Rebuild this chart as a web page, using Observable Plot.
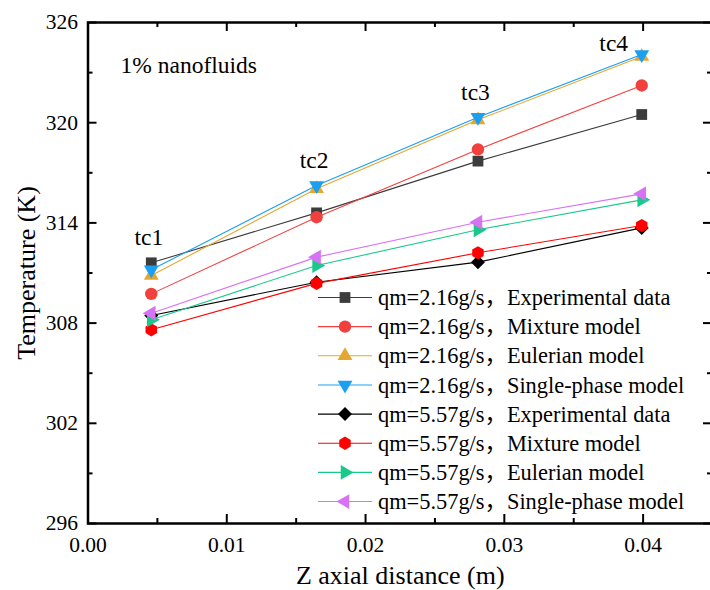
<!DOCTYPE html>
<html><head><meta charset="utf-8">
<script src="https://cdn.jsdelivr.net/npm/d3@7"></script>
<script src="https://cdn.jsdelivr.net/npm/@observablehq/plot@0.6"></script>
<style>
body{margin:0;background:#fff;}
#chart{width:710px;height:590px;overflow:hidden;}
</style></head><body><div id="chart"></div>
<script>
// ---- data ----
const positions = [0.00456, 0.01647, 0.0281, 0.0399];
const pointLabels = ["tc1", "tc2", "tc3", "tc4"];
const flowRates = ["2.16", "2.16", "2.16", "2.16", "5.57", "5.57", "5.57", "5.57"];
const models = ["Experimental data", "Mixture model", "Eulerian model", "Single-phase model",
                "Experimental data", "Mixture model", "Eulerian model", "Single-phase model"];
const exp216 = [311.61, 314.60, 317.70, 320.49];
const mix216 = [309.75, 314.34, 318.40, 322.23];
const eul216 = [310.85, 316.04, 320.17, 323.96];
const sp216  = [311.19, 316.24, 320.33, 324.08];
const exp557 = [308.46, 310.45, 311.65, 313.70];
const mix557 = [307.60, 310.38, 312.21, 313.84];
const eul557 = [308.20, 311.45, 313.59, 315.38];
const sp557  = [308.59, 311.95, 314.04, 315.74];
const xTicks = [0, 0.01, 0.02, 0.03, 0.04];
const xMinorTicks = [0.005, 0.015, 0.025, 0.035];
const yTicks = [296, 302, 308, 314, 320, 326];
const yMinorTicks = [299, 305, 311, 317, 323];
const annotation = "1% nanofluids";
const xTitle = "Z axial distance (m)";
const yTitle = "Temperature (K)";

// ---- styles ----
const seriesValues = [exp216, mix216, eul216, sp216, exp557, mix557, eul557, sp557];
const colors = ["#3c3c3c", "#f0413f", "#e6a731", "#1a9ff2", "#000000", "#ff0000", "#18c98a", "#d872f4"];

function poly(pts) {
  return {draw(ctx, size) {
    const r = Math.sqrt(size / Math.PI);
    pts.forEach(([a, b], i) => i ? ctx.lineTo(a * r, b * r) : ctx.moveTo(a * r, b * r));
    ctx.closePath();
  }};
}
function tri(angleDeg, k) {
  const pts = [];
  for (let i = 0; i < 3; i++) {
    const a = (angleDeg + i * 120) * Math.PI / 180;
    pts.push([k * Math.cos(a), k * Math.sin(a)]);
  }
  return poly(pts);
}
const sq = 0.87;
const symSquare = poly([[-sq, -sq], [sq, -sq], [sq, sq], [-sq, sq]]);
const symCircle = {draw(ctx, size) { const r = Math.sqrt(size / Math.PI); ctx.moveTo(r, 0); ctx.arc(0, 0, r, 0, 2 * Math.PI); }};
const symUp = tri(-90, 1.38);
const symDown = tri(90, 1.38);
const symRight = tri(0, 1.38);
const symLeft = tri(180, 1.38);
const dm = 1.13;
const symDiamond = poly([[0, -dm], [dm, 0], [0, dm], [-dm, 0]]);
const hx = [];
for (let i = 0; i < 6; i++) { const a = (-90 + i * 60) * Math.PI / 180; hx.push([1.07 * Math.cos(a), 1.07 * Math.sin(a)]); }
const symHex = poly(hx);
const symbols = [symSquare, symCircle, symUp, symDown, symDiamond, symHex, symRight, symLeft];
const R = 6.2;

const series = seriesValues.map((vals, s) => ({
  name: `qm=${flowRates[s]}g/s，${models[s]}`,
  color: colors[s], symbol: symbols[s],
  rows: vals.map((v, i) => ({x: positions[i], y: v}))
}));
const labelRows = pointLabels.map((t, i) => ({t, x: positions[i], y: d3.max(seriesValues, v => v[i])}));

const W = 710, H = 590, mL = 87.5, mR = -2, mT = 22, mB = 67;
const innerW = W - mL - mR, innerH = H - mT - mB;
const FONT = "'Liberation Serif', 'Times New Roman', 'Noto Sans CJK SC', serif";

const plot = Plot.plot({
  width: W, height: H,
  marginLeft: mL, marginRight: mR, marginTop: mT, marginBottom: mB,
  x: {domain: [0, 0.045]},
  y: {domain: [296, 326]},
  style: {fontFamily: FONT, fontSize: "21px", color: "#000", background: "#fff"},
  marks: [
    ...series.flatMap(s => [
      Plot.line(s.rows, {x: "x", y: "y", stroke: s.color, strokeWidth: 1.1}),
      Plot.dot(s.rows, {x: "x", y: "y", symbol: s.symbol, fill: s.color, r: R, stroke: "none"})
    ]),
    // inward ticks
    Plot.tickX(xTicks, {x: d => d, insetTop: innerH - 9, strokeWidth: 2}),
    Plot.tickX(xMinorTicks, {x: d => d, insetTop: innerH - 5, strokeWidth: 2}),
    Plot.tickX(xTicks, {x: d => d, insetBottom: innerH - 9, strokeWidth: 2}),
    Plot.tickX(xMinorTicks, {x: d => d, insetBottom: innerH - 5, strokeWidth: 2}),
    Plot.tickY(yTicks, {y: d => d, insetRight: innerW - 9, strokeWidth: 2}),
    Plot.tickY(yMinorTicks, {y: d => d, insetRight: innerW - 5, strokeWidth: 2}),
    Plot.tickY(yTicks, {y: d => d, insetLeft: innerW - 9, strokeWidth: 2}),
    Plot.tickY(yMinorTicks, {y: d => d, insetLeft: innerW - 5, strokeWidth: 2}),
    Plot.axisX({ticks: xTicks, tickSize: 0, tickPadding: 13, tickFormat: d3.format(".2f"), label: null, fontSize: 21.5}),
    Plot.axisY({ticks: yTicks, tickSize: 0, tickPadding: 10, tickFormat: d3.format("d"), label: null, fontSize: 21.5}),
    Plot.frame({stroke: "#000", strokeWidth: 2.5}),
    Plot.text(labelRows.slice(0, 3), {x: "x", y: "y", text: "t", dx: -2.5, dy: -25, fontSize: 23.5}),
    Plot.text(labelRows.slice(3), {x: "x", y: "y", text: "t", dx: -28, dy: -11, fontSize: 23.5}),
    Plot.text([annotation], {frameAnchor: "top-left", dx: 32.5, dy: 43, textAnchor: "start", lineAnchor: "middle", fontSize: 23.5}),
    Plot.text([xTitle], {frameAnchor: "bottom", dy: 52, textAnchor: "middle", lineAnchor: "middle", fontSize: 26}),
    Plot.text([yTitle], {frameAnchor: "left", dx: -61.5, rotate: -90, textAnchor: "middle", lineAnchor: "middle", fontSize: 26})
  ]
});

// legend inside the plot area
const svg = d3.select(plot.tagName.toLowerCase() === "svg" ? plot : plot.querySelector("svg"));
const lg = svg.append("g").attr("font-family", FONT).attr("font-size", 22.4).attr("text-anchor", "start");
series.forEach((s, i) => {
  const y = 297.5 + i * 29.15;
  lg.append("line").attr("x1", 318).attr("x2", 372).attr("y1", y).attr("y2", y)
    .attr("stroke", s.color).attr("stroke-width", 1.1);
  lg.append("path").attr("transform", `translate(345,${y})`)
    .attr("d", d3.symbol(s.symbol, Math.PI * R * R)()).attr("fill", s.color);
  lg.append("text").attr("x", 378).attr("y", y).attr("dy", "0.34em").attr("fill", "#000")
    .attr("text-anchor", "start").text(s.name);
});

document.getElementById("chart").appendChild(plot);
</script>
</body></html>
